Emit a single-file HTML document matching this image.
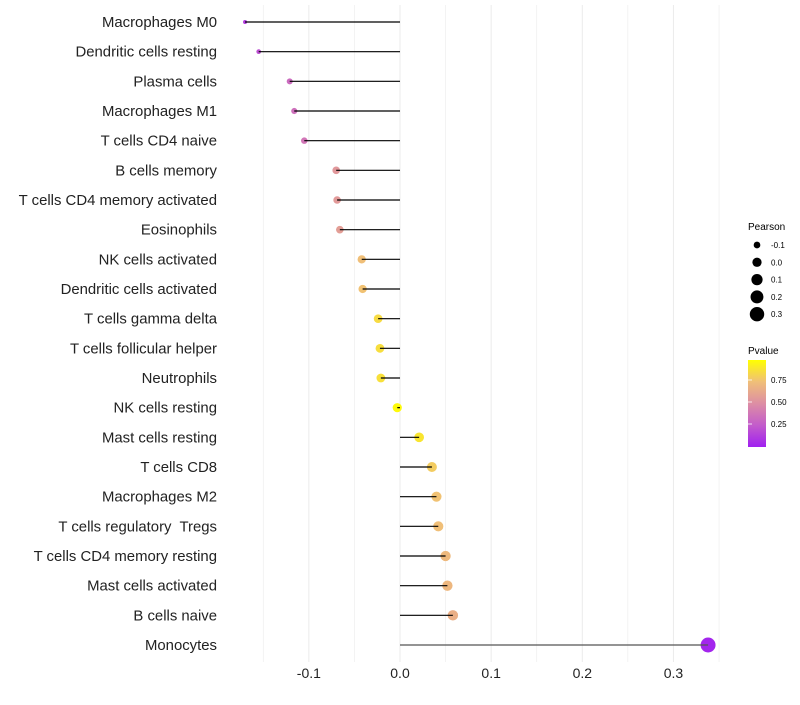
<!DOCTYPE html>
<html><head><meta charset="utf-8"><style>
body{margin:0;background:#fff;}
svg{font-family:"Liberation Sans",sans-serif;}
text{white-space:pre;}
</style></head><body>
<svg id="chart" width="800" height="700">
<defs><linearGradient id="pg" x1="0" y1="1" x2="0" y2="0">
<stop offset="0" stop-color="#a020f0"/><stop offset="0.25" stop-color="#c35ccb"/>
<stop offset="0.5" stop-color="#dd8ea4"/><stop offset="0.75" stop-color="#f0bf78"/>
<stop offset="1" stop-color="#ffff00"/></linearGradient></defs>
<g id="grid"></g><g id="marks"></g><g id="ylabels"></g><g id="xlabels"></g>
<g>
<text x="748" y="230" font-size="10">Pearson</text>
<g id="sizeleg"></g>
<text x="748" y="354" font-size="10">Pvalue</text>
<rect x="748" y="360" width="18" height="87" fill="url(#pg)"/>
<g id="cbticks"></g>
</g>
</svg>
<script>
const categories=["Macrophages M0","Dendritic cells resting","Plasma cells","Macrophages M1","T cells CD4 naive","B cells memory","T cells CD4 memory activated","Eosinophils","NK cells activated","Dendritic cells activated","T cells gamma delta","T cells follicular helper","Neutrophils","NK cells resting","Mast cells resting","T cells CD8","Macrophages M2","T cells regulatory  Tregs","T cells CD4 memory resting","Mast cells activated","B cells naive","Monocytes"];
const pearson=[-0.170,-0.155,-0.121,-0.116,-0.105,-0.070,-0.069,-0.066,-0.042,-0.041,-0.024,-0.022,-0.021,-0.003,0.021,0.035,0.040,0.042,0.050,0.052,0.058,0.338];
const pvalues=[0.12,0.2,0.33,0.35,0.38,0.55,0.56,0.58,0.75,0.76,0.86,0.87,0.88,0.98,0.9,0.8,0.76,0.75,0.72,0.71,0.67,0.02];
const xTicks=[-0.1,0,0.1,0.2,0.3];
const xTickLabels=["-0.1","0.0","0.1","0.2","0.3"];
const sizeLegend=[-0.1,0,0.1,0.2,0.3];
const sizeLegendLabels=["-0.1","0.0","0.1","0.2","0.3"];
const cbTicks=[0.25,0.5,0.75];
const cbLabels=["0.25","0.50","0.75"];

const NS="http://www.w3.org/2000/svg";
const x=v=>400+v*911.5;
const y=i=>22+i*(623/(categories.length-1));
const r=v=>Math.sqrt(Math.max(2,21.4+102*v));
const stops=[[0,[160,32,240]],[0.25,[195,92,203]],[0.5,[221,142,164]],[0.75,[240,191,120]],[1,[255,255,0]]];
function col(p){for(let k=1;k<stops.length;k++){if(p<=stops[k][0]){const a=stops[k-1],b=stops[k],t=(p-a[0])/(b[0]-a[0]);return`rgb(${a[1].map((c,j)=>Math.round(c+(b[1][j]-c)*t)).join(',')})`;}}return'rgb(255,255,0)';}
function mk(tag,at,parent){const e=document.createElementNS(NS,tag);for(const k in at)e.setAttribute(k,at[k]);document.getElementById(parent).appendChild(e);return e;}
for(let v=-0.15;v<=0.36;v+=0.05){const g=mk('line',{x1:x(v),x2:x(v),y1:5,y2:662,stroke:'#ebebeb','stroke-width':Math.abs(Math.round(v*100)%10)===5?0.6:1},'grid');

}
xTicks.forEach((v,i)=>{const t=mk('text',{x:x(v),y:678,'font-size':14,'text-anchor':'middle',fill:'#222'},'xlabels');t.textContent=xTickLabels[i];

});
categories.forEach((c,i)=>{
const t=mk('text',{x:217,y:y(i)+5,'font-size':14.9,'text-anchor':'end',fill:'#222'},'ylabels');t.textContent=c;


const p=mk('circle',{cx:x(pearson[i]),cy:y(i),r:r(pearson[i]),fill:col(pvalues[i])},'marks');


const l=mk('line',{x1:x(0),x2:x(pearson[i]),y1:y(i),y2:y(i),stroke:i===categories.length-1?'#555':'#000','stroke-width':1.2},'marks');


});
sizeLegend.forEach((v,i)=>{const cy=245+i*17.3;
const c=mk('circle',{cx:757,cy:cy,r:r(v),fill:'#000'},'sizeleg');


const t=mk('text',{x:771,y:cy+3,'font-size':8},'sizeleg');t.textContent=sizeLegendLabels[i];

});
cbTicks.forEach((v,i)=>{const yy=446-v*88;
const l=mk('line',{x1:748,x2:752,y1:yy,y2:yy,stroke:'#fff','stroke-width':0.8},'cbticks');


const t=mk('text',{x:771,y:yy+3,'font-size':8},'cbticks');t.textContent=cbLabels[i];

});
</script>
</body></html>
